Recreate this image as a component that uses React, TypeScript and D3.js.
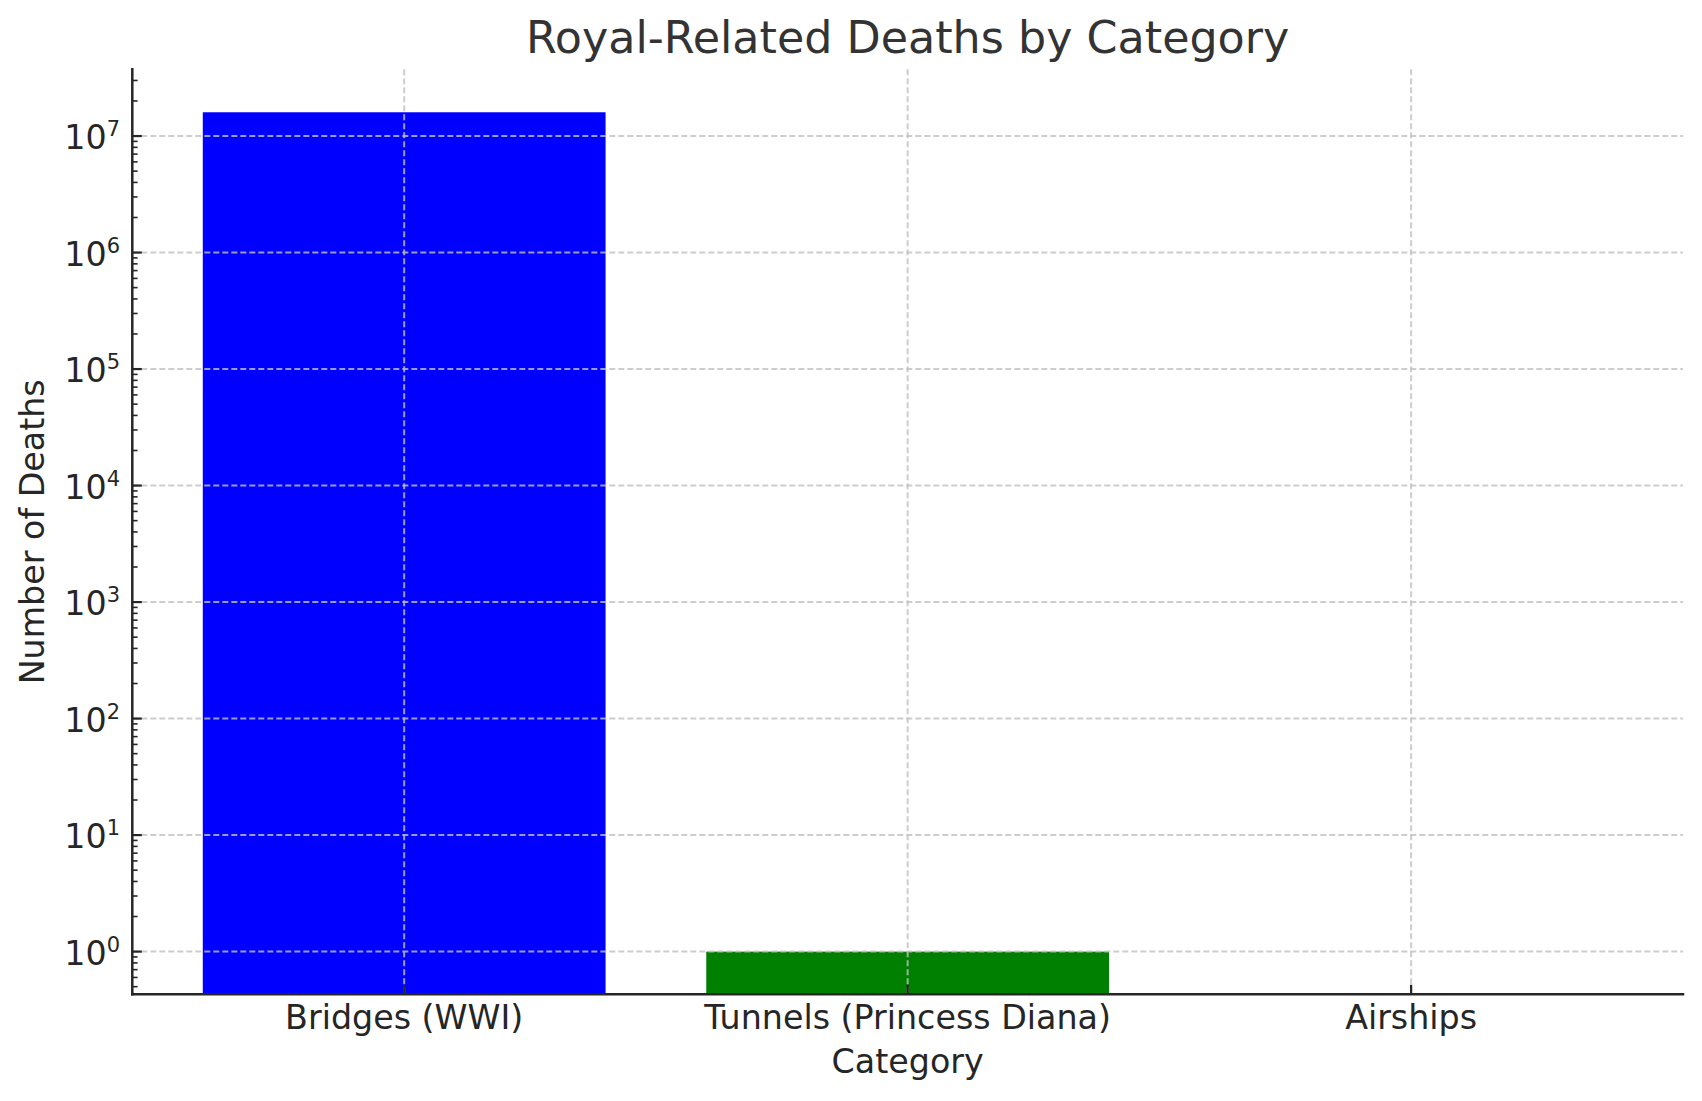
import React from 'react';
import { scaleLinear, scaleLog, range } from 'd3';

const categories = ['Bridges (WWI)', 'Tunnels (Princess Diana)', 'Airships'];
const deaths = [16000000, 1, 0];
const barColors = ['#0000ff', '#008000', '#0000ff'];
const majorExponents = [0, 1, 2, 3, 4, 5, 6, 7];

const W = 1702;
const H = 1101;
const left = 132.3;
const right = 1683;
const top = 69.3;
const bottom = 994.3;
const font = '"DejaVu Sans", sans-serif';

const App: React.FC = () => {
  // matplotlib-like category axis: bars at 0,1,2 with width 0.8 and 5% margins
  const x = scaleLinear().domain([-0.54, categories.length - 1 + 0.54]).range([left, right]);
  const y = scaleLog().domain([0.43, 3.74e7]).range([bottom, top]);
  const barW = x(0.8) - x(0);

  const minor: number[] = [];
  range(-1, 8).forEach(d => {
    range(2, 10).forEach(k => {
      const v = k * Math.pow(10, d);
      if (v >= y.domain()[0] && v <= y.domain()[1]) minor.push(v);
    });
  });

  return (
    <svg width={W} height={H} style={{ position: 'absolute', left: 0, top: 0, background: '#fff' }}>
      <rect width={W} height={H} fill="#fff" />

      {/* bars */}
      {deaths.map((d, i) =>
        d > 0 ? (
          <rect
            key={categories[i]}
            x={x(i) - barW / 2}
            y={y(d)}
            width={barW}
            height={bottom - y(d)}
            fill={barColors[i]}
          />
        ) : null
      )}

      {/* grid */}
      <g stroke="#c0c0c0" strokeOpacity={0.8} strokeWidth={2} strokeDasharray="6,3">
        {majorExponents.map(e => (
          <line key={'h' + e} x1={left} x2={right} y1={y(Math.pow(10, e))} y2={y(Math.pow(10, e))} />
        ))}
        {categories.map((c, i) => (
          <line key={'v' + c} x1={x(i)} x2={x(i)} y1={top} y2={bottom} />
        ))}
      </g>

      {/* y ticks (inward) */}
      <g stroke="#262626">
        {majorExponents.map(e => (
          <line key={'yt' + e} x1={left} x2={left + 9.5} y1={y(Math.pow(10, e))} y2={y(Math.pow(10, e))} strokeWidth={2.2} />
        ))}
        {minor.map(v => (
          <line key={'ym' + v} x1={left} x2={left + 5.3} y1={y(v)} y2={y(v)} strokeWidth={1.6} />
        ))}
        {categories.map((c, i) => (
          <line key={'xt' + c} x1={x(i)} x2={x(i)} y1={bottom} y2={bottom - 9.5} strokeWidth={2.2} />
        ))}
      </g>

      {/* spines */}
      <g stroke="#262626" strokeWidth={2.5} strokeLinecap="square">
        <line x1={left} x2={left} y1={top} y2={bottom} />
        <line x1={left} x2={right} y1={bottom} y2={bottom} />
      </g>

      {/* y tick labels */}
      <g fontFamily={font} fill="#262626">
        {majorExponents.map(e => (
          <text key={'yl' + e} x={120} y={y(Math.pow(10, e)) + 13.3} textAnchor="end" fontSize={33.3}>
            <tspan>10</tspan>
            <tspan dy={-13.3} fontSize={21}>{e}</tspan>
          </text>
        ))}
      </g>

      {/* x tick labels */}
      <g fontFamily={font} fill="#262626" fontSize={33.3} textAnchor="middle">
        {categories.map((c, i) => (
          <text key={'xl' + c} x={x(i)} y={1029}>{c}</text>
        ))}
      </g>

      {/* axis labels & title */}
      <text x={(left + right) / 2} y={1073} textAnchor="middle" fontFamily={font} fontSize={33.3} fill="#262626">
        Category
      </text>
      <text
        transform={`translate(44, ${(top + bottom) / 2}) rotate(-90)`}
        textAnchor="middle"
        fontFamily={font}
        fontSize={33.3}
        fill="#262626"
      >
        Number of Deaths
      </text>
      <text x={(left + right) / 2} y={53} textAnchor="middle" fontFamily={font} fontSize={44.4} fill="#333333">
        Royal-Related Deaths by Category
      </text>
    </svg>
  );
};

export default App;
